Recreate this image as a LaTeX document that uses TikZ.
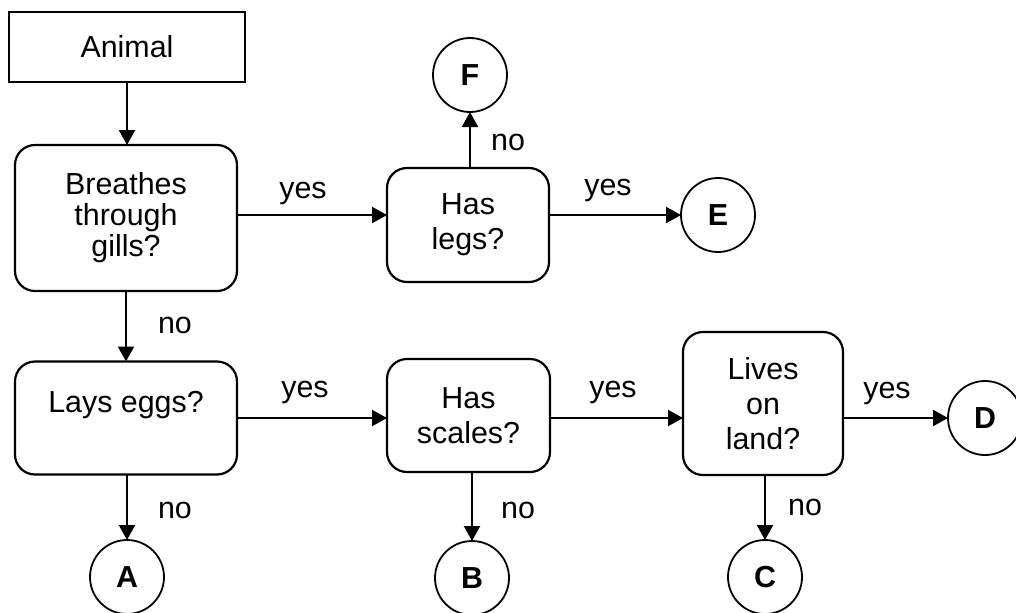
\documentclass[tikz,border=0pt]{standalone}
\usepackage{fontspec}
\setmainfont{Liberation Sans}
\usetikzlibrary{arrows.meta}
\begin{document}
\begin{tikzpicture}[x=0.5pt,y=-0.5pt,
  every node/.style={font=\fontsize{15.2}{17.5}\selectfont, inner sep=0pt, outer sep=0pt},
  plainbox/.style={draw, line width=1.1pt, align=center},
  qbox/.style={draw, line width=1.1pt, rounded corners=10pt, align=center},
  endpt/.style={draw, circle, line width=0.9pt, minimum size=37pt, font=\fontsize{15.2}{17}\selectfont\bfseries},
  conn/.style={line width=1.1pt, -{Triangle[length=7.5pt,width=8pt]}},
  lbl/.style={}
]
\useasboundingbox (0,0) rectangle (1016,612);
\node[plainbox, minimum width=118pt, minimum height=35pt] (animal) at (127,47) {Animal};
\node[qbox, minimum width=111pt, minimum height=73pt, font=\fontsize{15.2}{15.5}\selectfont] (gills) at (126,218) {Breathes\\through\\gills?};
\node[qbox, minimum width=81pt, minimum height=57pt] (legs) at (468,225) {Has\\legs?};
\node[qbox, minimum width=111pt, minimum height=56.5pt, font=\fontsize{15.2}{16}\selectfont] (eggs) at (126,418) {Lays eggs?\\\phantom{x}};
\node[qbox, minimum width=81.5pt, minimum height=56.5pt] (scales) at (468.5,415.5) {Has\\scales?};
\node[qbox, minimum width=80pt, minimum height=71.5pt] (land) at (763,403.5) {Lives\\on\\land?};
\node[endpt] (F) at (470,75) {F};
\node[endpt] (E) at (718,215) {E};
\node[endpt] (D) at (985,418) {D};
\node[endpt] (A) at (127,577) {A};
\node[endpt] (B) at (472,578) {B};
\node[endpt] (C) at (765,577) {C};
\draw[conn] (animal.south) -- (animal.south |- gills.north);
\draw[conn] (gills.east |- E) -- (legs.west |- E);
\draw[conn] (legs.north -| F) -- (F.south);
\draw[conn] (legs.east |- E) -- (E.west);
\draw[conn] (gills.south) -- (gills.south |- eggs.north);
\draw[conn] (eggs.east |- D) -- (scales.west |- D);
\draw[conn] (scales.east |- D) -- (land.west |- D);
\draw[conn] (land.east |- D) -- (D.west);
\draw[conn] (eggs.south -| A) -- (A.north);
\draw[conn] (scales.south -| B) -- (B.north);
\draw[conn] (land.south -| C) -- (C.north);
\node[lbl] (l1) at (303,193) {yes};
\node[lbl] (l2) at (608,190) {yes};
\node[lbl] (l3) at (508,142) {no};
\node[lbl] (l4) at (175,325) {no};
\node[lbl] (l5) at (305,392) {yes};
\node[lbl] (l6) at (613,392) {yes};
\node[lbl] (l7) at (887,393) {yes};
\node[lbl] (l8) at (175,510) {no};
\node[lbl] (l9) at (518,510) {no};
\node[lbl] (l10) at (805,507) {no};
\end{tikzpicture}
\end{document}
